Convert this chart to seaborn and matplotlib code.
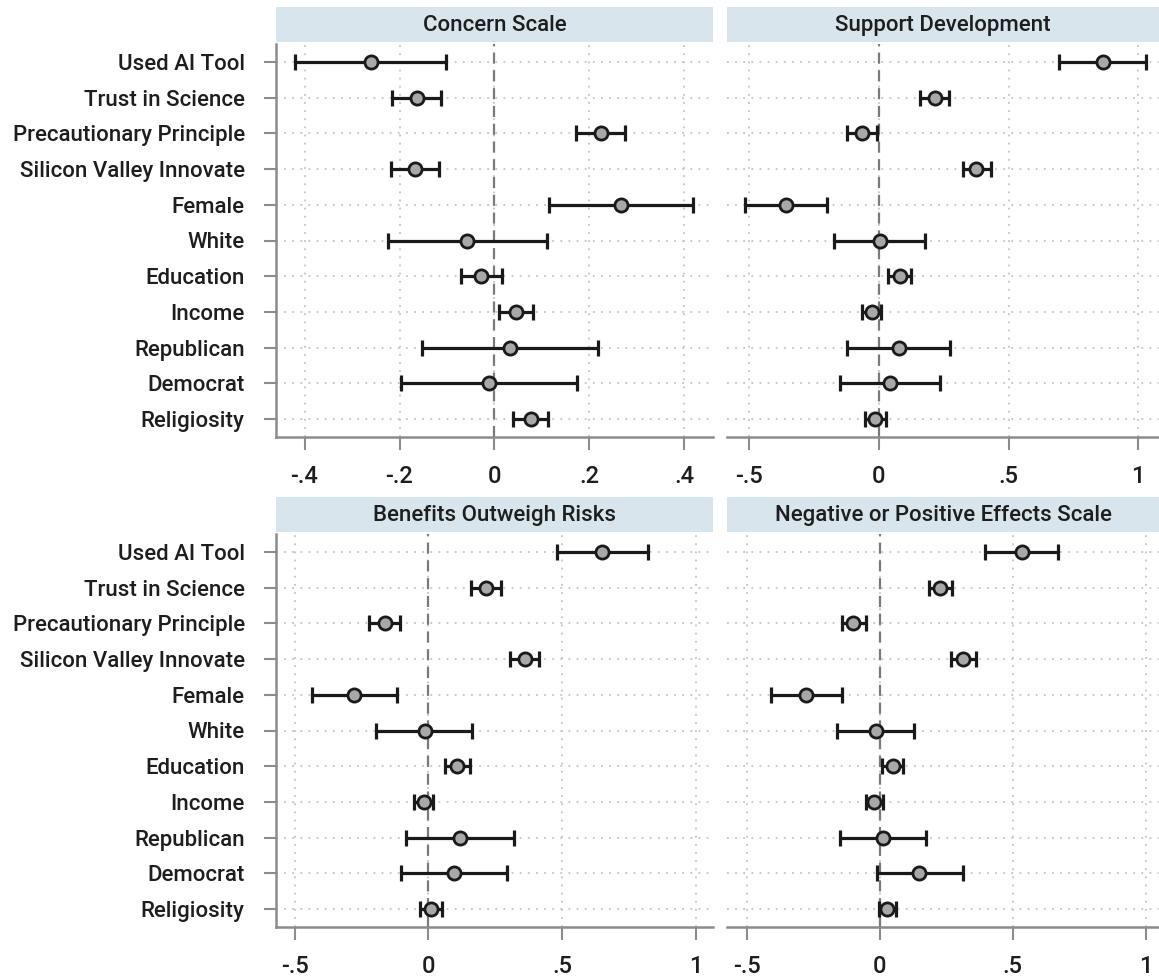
import matplotlib
matplotlib.use("Agg")
import matplotlib.pyplot as plt
import matplotlib.ticker as mticker
import seaborn as sns
import numpy as np
import pandas as pd

# ---------------------
# Data (coefficients with 95% CIs)
# ---------------------

predictors = ['Used AI Tool', 'Trust in Science', 'Precautionary Principle',
              'Silicon Valley Innovate', 'Female', 'White', 'Education',
              'Income', 'Republican', 'Democrat', 'Religiosity']

concern_est = [-0.259, -0.163, 0.224, -0.168, 0.266, -0.058, -0.029, 0.045, 0.032, -0.012, 0.077]
concern_lo = [-0.419, -0.215, 0.171, -0.218, 0.115, -0.225, -0.070, 0.010, -0.153, -0.197, 0.040]
concern_hi = [-0.103, -0.112, 0.275, -0.117, 0.417, 0.110, 0.016, 0.082, 0.218, 0.173, 0.112]

support_est = [0.865, 0.215, -0.066, 0.376, -0.358, 0.003, 0.080, -0.027, 0.077, 0.045, -0.013]
support_lo = [0.695, 0.158, -0.122, 0.323, -0.516, -0.174, 0.035, -0.066, -0.122, -0.148, -0.053]
support_hi = [1.028, 0.269, -0.006, 0.431, -0.199, 0.178, 0.126, 0.010, 0.273, 0.237, 0.027]

benefit_est = [0.649, 0.216, -0.164, 0.360, -0.277, -0.014, 0.107, -0.017, 0.118, 0.095, 0.009]
benefit_lo = [0.481, 0.159, -0.221, 0.306, -0.436, -0.194, 0.061, -0.055, -0.083, -0.104, -0.031]
benefit_hi = [0.822, 0.272, -0.107, 0.415, -0.116, 0.164, 0.156, 0.017, 0.320, 0.294, 0.052]

effects_est = [0.533, 0.228, -0.100, 0.313, -0.276, -0.014, 0.048, -0.021, 0.013, 0.149, 0.025]
effects_lo = [0.397, 0.184, -0.144, 0.268, -0.409, -0.160, 0.009, -0.051, -0.150, -0.010, -0.004]
effects_hi = [0.669, 0.273, -0.054, 0.360, -0.144, 0.130, 0.086, 0.010, 0.175, 0.312, 0.059]

panel_titles = ['Concern Scale', 'Support Development',
                'Benefits Outweigh Risks', 'Negative or Positive Effects Scale']
concern_ticks = [-0.4, -0.2, 0, 0.2, 0.4]
wide_ticks = [-0.5, 0, 0.5, 1]

# ---------------------
# Style
# ---------------------

sns.set_theme(style='white')
plt.rcParams['font.family'] = ['Roboto', 'DejaVu Sans']

strip_color = '#d8e5ec'
spine_color = '#8c8c8c'
grid_color = '#c4c4c4'
text_color = '#1e1e1e'
font_size = 16

W, H = 1159, 977
fig = plt.figure(figsize=(W / 100, H / 100), dpi=100)


def fmt_tick(v, pos):
    if abs(v) < 1e-9:
        return '0'
    s = ('%g' % v)
    return s.replace('0.', '.')


def plot_panel(px, py, pw, ph, title, est, lo, hi, xlim, ticks, show_y):
    ax = fig.add_axes([px / W, 1 - (py + ph) / H, pw / W, ph / H])
    df = pd.DataFrame({'predictor': predictors, 'est': est, 'lo': lo, 'hi': hi})
    ypos = np.arange(len(df))

    # grid + zero line
    for t in ticks:
        ax.axvline(t, color=grid_color, lw=1.3, ls=(0, (1, 3.5)), zorder=0)
    for y in ypos:
        ax.axhline(y, color=grid_color, lw=1.3, ls=(0, (1, 3.5)), zorder=0)
    ax.axvline(0, color='#7a7a7a', lw=1.6, ls=(0, (5, 3)), zorder=1)

    # CIs
    ax.errorbar(df['est'], ypos,
                xerr=[df['est'] - df['lo'], df['hi'] - df['est']],
                fmt='none', ecolor='#1a1a1a', elinewidth=2.3,
                capsize=5.5, capthick=2.3, zorder=2)
    # point estimates
    sns.scatterplot(x=df['est'], y=ypos, ax=ax, s=90, color='#a8a8a8',
                    edgecolor='#1a1a1a', linewidth=2.0, zorder=3, legend=False)

    ax.set_xlim(*xlim)
    ax.set_ylim(len(df) - 0.5, -0.5)
    ax.set_xticks(ticks)
    ax.xaxis.set_major_formatter(mticker.FuncFormatter(fmt_tick))
    ax.set_yticks(ypos)
    ax.set_xlabel('')
    ax.set_ylabel('')

    for side in ['top', 'right']:
        ax.spines[side].set_visible(False)
    ax.spines['bottom'].set_color(spine_color)
    ax.spines['bottom'].set_linewidth(1.8)
    if show_y:
        ax.spines['left'].set_color(spine_color)
        ax.spines['left'].set_linewidth(1.8)
        ax.set_yticklabels(predictors, fontweight='medium')
        ax.tick_params(axis='y', length=8.5, width=1.5, color=spine_color,
                       labelsize=font_size, labelcolor=text_color, pad=14, left=True)
    else:
        ax.spines['left'].set_visible(False)
        ax.set_yticklabels([])
        ax.tick_params(axis='y', length=0)
    ax.tick_params(axis='x', length=9, width=1.5, color=spine_color,
                   labelsize=17, labelcolor=text_color, pad=11, bottom=True)
    for lab in ax.get_xticklabels():
        lab.set_fontweight('medium')

    # strip header
    sax = fig.add_axes([px / W, 1 - (py - 2) / H, pw / W, 35 / H])
    sax.set_facecolor(strip_color)
    sax.set_xticks([])
    sax.set_yticks([])
    for s in sax.spines.values():
        s.set_visible(False)
    sax.text(0.5, 0.48, title, ha='center', va='center', fontsize=font_size,
             color=text_color, fontweight='medium', transform=sax.transAxes)
    return ax


plot_panel(276, 44, 437, 393, panel_titles[0], concern_est, concern_lo, concern_hi,
           (-0.46, 0.46), concern_ticks, True)
plot_panel(727, 44, 432, 393, panel_titles[1], support_est, support_lo, support_hi,
           (-0.585, 1.08), wide_ticks, False)
plot_panel(276, 534, 437, 393, panel_titles[2], benefit_est, benefit_lo, benefit_hi,
           (-0.57, 1.065), wide_ticks, True)
plot_panel(727, 534, 432, 393, panel_titles[3], effects_est, effects_lo, effects_hi,
           (-0.575, 1.05), wide_ticks, False)

plt.savefig('out.png', dpi=100)
